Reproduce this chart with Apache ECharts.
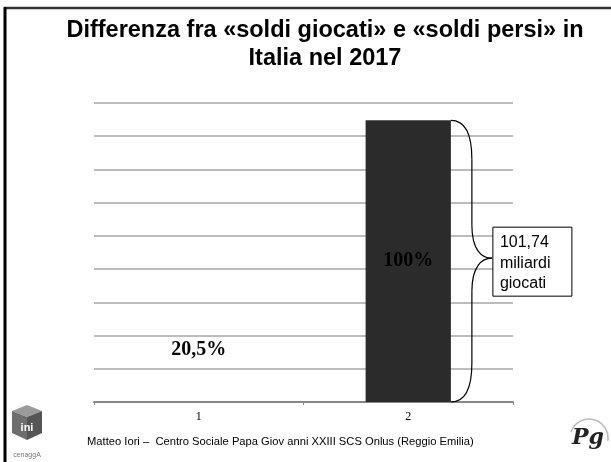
<!DOCTYPE html>
<html>
<head>
<meta charset="utf-8">
<script src="https://cdn.jsdelivr.net/npm/echarts@6/dist/echarts.min.js"></script>
<style>
html,body{margin:0;padding:0;background:#fff;}
#c{width:611px;height:462px;}
</style>
</head>
<body>
<div id="c"></div>
<script>
// ---- data ----
var categories = ['1', '2'];
var values = [20.86, 101.74];           // miliardi (20,5% of 101,74 ; 101,74)
var pctLabels = ['20,5%', '100%'];
var barColors = ['rgba(255,255,255,0)', '#2b2b2b'];
var titleLines = ['Differenza fra «soldi giocati» e «soldi persi» in', 'Italia nel 2017'];
var calloutLines = ['101,74', 'miliardi', 'giocati'];
var footer = 'Matteo Iori –  Centro Sociale Papa Giov anni XXIII SCS Onlus (Reggio Emilia)';

var chart = echarts.init(document.getElementById('c'), null, {renderer: 'canvas'});

var option = {
  animation: false,
  backgroundColor: '#ffffff',
  grid: {left: 94, right: 98, top: 103, bottom: 60},
  xAxis: {
    type: 'category',
    data: categories,
    axisLine: {lineStyle: {color: '#888888', width: 2}},
    axisTick: {show: true, length: 3, lineStyle: {color: '#888888'}},
    axisLabel: {color: '#000', fontFamily: 'Liberation Serif, Times New Roman, serif', fontSize: 12, margin: 9}
  },
  yAxis: {
    type: 'value',
    min: 0, max: 108, interval: 12,
    axisLabel: {show: false},
    axisLine: {show: false},
    axisTick: {show: false},
    splitLine: {lineStyle: {color: '#a6a6a6', width: 1.5}}
  },
  series: [{
    type: 'bar',
    barWidth: '40.7%',
    data: values.map(function (v, i) {
      return {
        value: v,
        itemStyle: {color: barColors[i]},
        label: {
          show: true,
          position: i === 0 ? 'insideTop' : 'inside',
          distance: 0,
          offset: i === 0 ? [0, -4] : [0, 0],
          formatter: pctLabels[i],
          color: '#000',
          fontFamily: 'Liberation Serif, Times New Roman, serif',
          fontWeight: 'bold',
          fontSize: 20
        }
      };
    })
  }]
};
chart.setOption(option);

// ---- annotations computed from the chart's own layout ----
var layout = chart.getModel().getSeriesByIndex(0).getData().getItemLayout(1);
var x0 = layout.x + layout.width;
var yA = Math.min(layout.y, layout.y + layout.height);
var yB = Math.max(layout.y, layout.y + layout.height);
var mid = (yA + yB) / 2 - 3;
var x1 = x0 + 21, x2 = x0 + 41;
var braceStyle = {stroke: '#000', lineWidth: 1.2, fill: null};
function bz(a, b, c, d) {
  return {type: 'bezierCurve', shape: {x1: a[0], y1: a[1], cpx1: b[0], cpy1: b[1], cpx2: c[0], cpy2: c[1], x2: d[0], y2: d[1]}, style: braceStyle, z: 50};
}
function ln(a, b) {
  return {type: 'line', shape: {x1: a[0], y1: a[1], x2: b[0], y2: b[1]}, style: braceStyle, z: 50};
}

var font = '"Liberation Sans", Arial, sans-serif';
var boxX = x2 + 1, boxY = mid - 31;
var graphics = [
  // slide border
  {type: 'line', shape: {x1: 4, y1: 8, x2: 611, y2: 8}, style: {stroke: '#333', lineWidth: 2.5}, z: 100},
  {type: 'line', shape: {x1: 5, y1: 7, x2: 5, y2: 462}, style: {stroke: '#000', lineWidth: 3}, z: 100},
  // title
  {type: 'text', x: 325, y: 31, style: {text: titleLines[0], textAlign: 'center', textVerticalAlign: 'middle', fill: '#000', font: 'bold 23.5px ' + font}},
  {type: 'text', x: 325, y: 59, style: {text: titleLines[1], textAlign: 'center', textVerticalAlign: 'middle', fill: '#000', font: 'bold 23.5px ' + font}},
  // brace
  bz([x0, yA], [x0 + 15, yA], [x1, yA + 14], [x1, yA + 39]),
  ln([x1, yA + 39], [x1, mid - 33]),
  bz([x1, mid - 33], [x1, mid - 8], [x1 + 10, mid], [x2, mid]),
  bz([x2, mid], [x1 + 10, mid], [x1, mid + 8], [x1, mid + 33]),
  ln([x1, mid + 33], [x1, yB - 39]),
  bz([x1, yB - 39], [x1, yB - 14], [x0 + 15, yB], [x0, yB]),
  // callout box
  {type: 'rect', shape: {x: boxX, y: boxY, width: 79, height: 69}, style: {fill: '#fff', stroke: '#000', lineWidth: 1}, z: 60},
  {type: 'text', x: boxX + 7, y: boxY + 15, style: {text: calloutLines[0], textVerticalAlign: 'middle', fill: '#000', font: '16px ' + font}, z: 61},
  {type: 'text', x: boxX + 7, y: boxY + 36, style: {text: calloutLines[1], textVerticalAlign: 'middle', fill: '#000', font: '16px ' + font}, z: 61},
  {type: 'text', x: boxX + 7, y: boxY + 56, style: {text: calloutLines[2], textVerticalAlign: 'middle', fill: '#000', font: '16px ' + font}, z: 61},
  // footer
  {type: 'text', x: 87, y: 442, style: {text: footer, textVerticalAlign: 'middle', fill: '#000', font: '11.2px ' + font}},
  // left logo (cube)
  {type: 'polygon', shape: {points: [[27, 405], [42, 411], [27, 417], [12, 411]]}, style: {fill: '#9a9a9a'}},
  {type: 'polygon', shape: {points: [[12, 411], [27, 417], [27, 440], [12, 433]]}, style: {fill: '#6e6e6e'}},
  {type: 'polygon', shape: {points: [[27, 417], [42, 411], [42, 433], [27, 440]]}, style: {fill: '#555'}},
  {type: 'text', x: 27, y: 428, style: {text: 'ini', textAlign: 'center', textVerticalAlign: 'middle', fill: '#fff', font: 'bold 11px ' + font}},
  {type: 'text', x: 27, y: 455, style: {text: 'cenaggA', textAlign: 'center', textVerticalAlign: 'middle', fill: '#777', font: '7px ' + font}},
  // right logo
  {type: 'arc', shape: {cx: 589, cy: 438, r: 19, startAngle: Math.PI * 1.1, endAngle: Math.PI * 2.05}, style: {stroke: '#bbb', lineWidth: 1.5, fill: null}},
  {type: 'text', x: 588, y: 438, style: {text: 'Pg', textAlign: 'center', textVerticalAlign: 'middle', fill: '#222', font: 'italic bold 22px "DejaVu Serif", serif'}}
];
chart.setOption({graphic: {elements: graphics}});
</script>
</body>
</html>
